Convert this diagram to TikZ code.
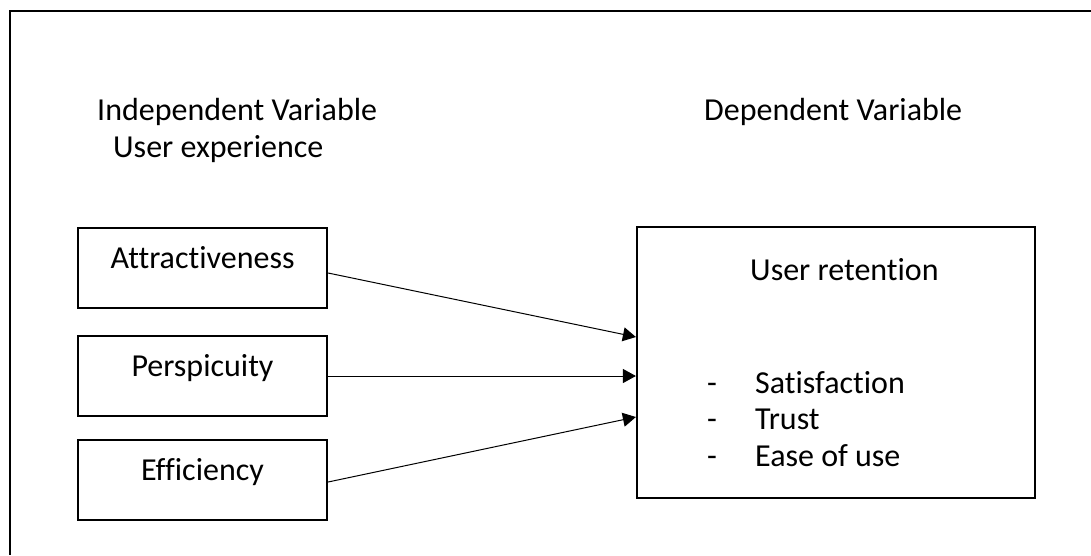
\documentclass[tikz,border=0pt]{standalone}
\usepackage{fontspec}
\setmainfont[Ligatures=NoCommon]{Carlito}
\usetikzlibrary{arrows.meta}
\newcommand{\diagfont}{\fontsize{32}{36.5}\selectfont}

\begin{document}
\begin{tikzpicture}[x=1pt,y=-1pt,font=\diagfont,
    txt/.style={inner sep=0pt,anchor=base west},
    varbox/.style={draw,line width=2.2pt,minimum width=249pt,minimum height=80pt,
      text height=15pt,text depth=15pt},
    outbox/.style={draw,line width=2.2pt,minimum width=398pt,minimum height=271pt},
    link/.style={-{Triangle[length=13pt,width=14pt]},line width=1pt}]
    \useasboundingbox (0,0) rectangle (1091,555);
    \draw[line width=2.2pt] (1091,11) -- (10,11) -- (10,555);
    \node[txt] (ivtitle) at (97,120) {Independent Variable};
    \node[txt] (ivsub) at (113,157) {User experience};
    \node[txt] (dvtitle) at (704,120) {Dependent Variable};
    \node[varbox] (attr) at (202.5,268) {Attractiveness};
    \node[varbox] (persp) at (202.5,376) {Perspicuity};
    \node[varbox] (eff) at (202.5,480) {Efficiency};
    \node[outbox] (dv) at (836,362.5) {};
    \node[txt] (ret) at (750,280) {User retention};
    \foreach \lbl [count=\i] in {Satisfaction,Trust,Ease of use} {
      \node[txt] (dash\i) at (707,356.5+36.5*\i) {-};
      \node[txt] (item\i) at (755,356.5+36.5*\i) {\lbl};
    }
    \draw[link] ([yshift=-5pt]attr.east) -- ([yshift=25.5pt]dv.west);
    \draw[link] (persp.east) -- (persp.east -| dv.west);
    \draw[link] ([yshift=-2pt]eff.east) -- ([yshift=-54.5pt]dv.west);
\end{tikzpicture}
\end{document}
